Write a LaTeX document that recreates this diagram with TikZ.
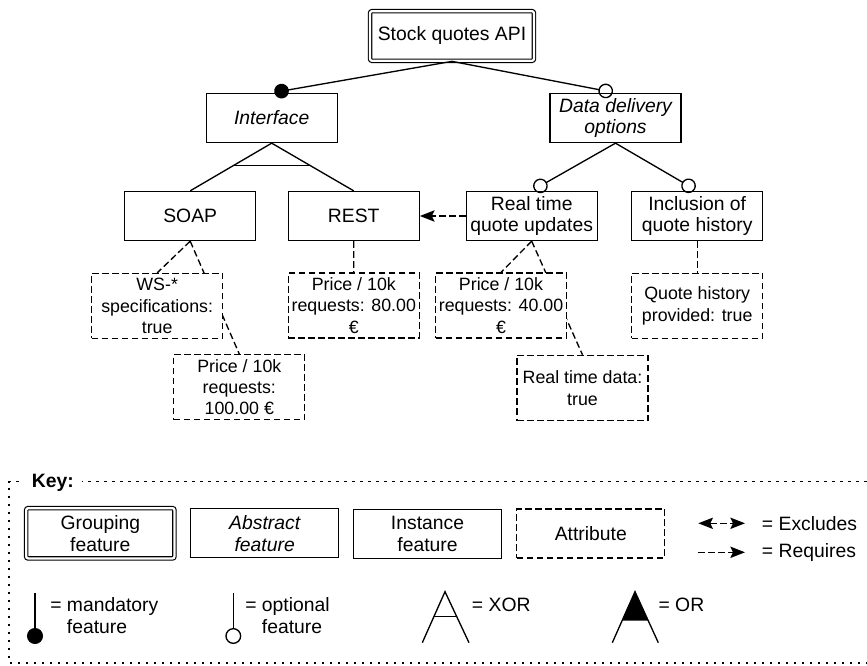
\documentclass[tikz,border=0pt]{standalone}
\usepackage{fontspec}
\setmainfont{Liberation Sans}
\usetikzlibrary{arrows.meta,calc,backgrounds}
\tikzset{
  feat/.style={draw, line width=1pt, minimum width=98.25pt, minimum height=36.75pt, inner sep=0pt, align=center, font=\fontsize{14.5}{16.3}\selectfont},
  absfeat/.style={feat, font=\fontsize{14.5}{16.3}\selectfont\itshape},
  grpfeat/.style={feat, double, double distance=1.7pt, line width=0.85pt, rounded corners=1.5pt},
  attr/.style={draw, line width=1pt, dash pattern=on 5pt off 2.5pt, fill=white, minimum width=98.25pt, minimum height=48.75pt, inner sep=0pt, align=center, font=\fontsize{13.35}{16}\selectfont},
  attrline/.style={line width=1pt, dash pattern=on 5pt off 2.5pt},
  mand/.style={line width=1pt, -{Circle[length=11pt]}, shorten >=2pt},
  opt/.style={line width=1pt, -{Circle[open,length=11pt]}, shorten >=2pt},
  reqtip/.style={-{Stealth[length=11pt,width=8.5pt,inset=2pt]}},
  keyline/.style={line width=1pt, dash pattern=on 2pt off 4pt},
  keytext/.style={font=\fontsize{14.5}{16.3}\selectfont, inner sep=0pt, anchor=west, align=left}
}
\begin{document}
\begin{tikzpicture}[x=0.75pt, y=-0.75pt]
	\useasboundingbox (0,0) rectangle (867,666);
	\node[grpfeat, minimum width=122.9pt, minimum height=37.2pt] (api) at (452,36) {Stock quotes API};
	\node[absfeat] (iface) at (271.7,118) {Interface};
	\node[absfeat] (data) at (615.5,118) {Data delivery\\options};
	\node[feat] (soap) at (190.2,216) {SOAP};
	\node[feat] (rest) at (353.7,216) {REST};
	\node[feat] (rtq) at (531.7,216) {Real time\\quote updates};
	\node[feat] (hist) at (697.2,216) {Inclusion of\\quote history};
	\node[attr] (ws) at (157.2,306) {WS-*\\specifications:\\true};
	\node[attr] (p100) at (239.3,387.2) {Price / 10k\\requests:\\100.00 €};
	\node[attr] (p80) at (353.8,305.5) {Price / 10k\\requests: 80.00\\€};
	\node[attr] (p40) at (501,305.5) {Price / 10k\\requests: 40.00\\€};
	\node[attr] (rtd) at (582.5,388) {Real time data:\\true};
	\node[attr] (qhp) at (697.2,306) {Quote history\\provided: true};
	\draw[mand] (api.south) -- (iface.north);
	\draw[opt] (api.south) -- (data.north);
	\draw[line width=1pt] (iface.south) -- (soap.north);
	\draw[line width=1pt] (iface.south) -- (rest.north);
	\draw[line width=1pt] ($(iface.south)!0.47!(soap.north)$) -- ($(iface.south)!0.47!(rest.north)$);
	\draw[opt] (data.south) -- (rtq.north);
	\draw[opt] (data.south) -- (hist.north);
	\draw[attrline, reqtip] (rtq.west) -- (rest.east);
	\begin{pgfonlayer}{background}
		\draw[attrline] (soap.south) -- (ws.north);
		\draw[attrline] (soap.south) -- (p100.north);
		\draw[attrline] (rest.south) -- (p80.north);
		\draw[attrline] (rtq.south) -- (p40.north);
		\draw[attrline] (rtq.south) -- (rtd.north);
		\draw[attrline] (hist.south) -- (qhp.north);
	\end{pgfonlayer}
	\draw[keyline] (867,481.7) -- (9,481.7) -- (9,663) -- (867,663);
	\node[fill=white, font=\fontsize{14.5}{16.3}\selectfont\bfseries, inner xsep=6pt, inner ysep=1pt] (keylbl) at (52.8,482.7) {Key:};
	\node[grpfeat, minimum width=111.2pt, minimum height=37.7pt] (kgrp) at (100.3,533.3) {Grouping\\feature};
	\node[absfeat, minimum width=111pt] (kabs) at (264.7,533.3) {Abstract\\feature};
	\node[feat, minimum width=111pt] (kinst) at (427.5,533.7) {Instance\\feature};
	\node[attr, minimum width=111pt, minimum height=36.75pt, font=\fontsize{14.5}{16.3}\selectfont] (kattr) at (590.8,533.5) {Attribute};
	\coordinate (exA) at (698.3,523.3);
	\coordinate (exB) at (745,523.3);
	\coordinate (rqA) at (698.3,552.3);
	\coordinate (rqB) at (745,552.3);
	\draw[attrline, {Stealth[length=11pt,width=8.5pt,inset=2pt]}-{Stealth[length=11pt,width=8.5pt,inset=2pt]}] (exA) -- (exB);
	\draw[attrline, reqtip] (rqA) -- (rqB);
	\node[keytext] (kexcl) at (761.7,523.3) {= Excludes};
	\node[keytext] (kreq) at (761.7,552.3) {= Requires};
	\coordinate (mdA) at (35,593.3);
	\coordinate (mdB) at (35,644);
	\coordinate (opA) at (233.3,593.3);
	\coordinate (opB) at (233.3,644);
	\draw[line width=1pt, -{Circle[length=12pt]}] (mdA) -- (mdB);
	\draw[line width=1pt, -{Circle[open,length=12pt]}] (opA) -- (opB);
	\node[keytext] (kmand) at (50,615.8) {= mandatory\\\phantom{= }feature};
	\node[keytext] (kopt) at (245,615.8) {= optional\\\phantom{= }feature};
	\draw[line width=1pt] (422.3,642.7) -- (445,591.7) -- (469,642.7);
	\draw[line width=1pt] (434.3,616.7) -- (457,616.7);
	\node[keytext] (kxor) at (471.7,605) {= XOR};
	\draw[line width=1pt] (612.3,642.7) -- (635,591.7) -- (658.3,642.7);
	\fill (635,591.7) -- (622.1,620.7) -- (648.3,620.7) -- cycle;
	\node[keytext] (kor) at (658.3,605) {= OR};
\end{tikzpicture}
\end{document}
